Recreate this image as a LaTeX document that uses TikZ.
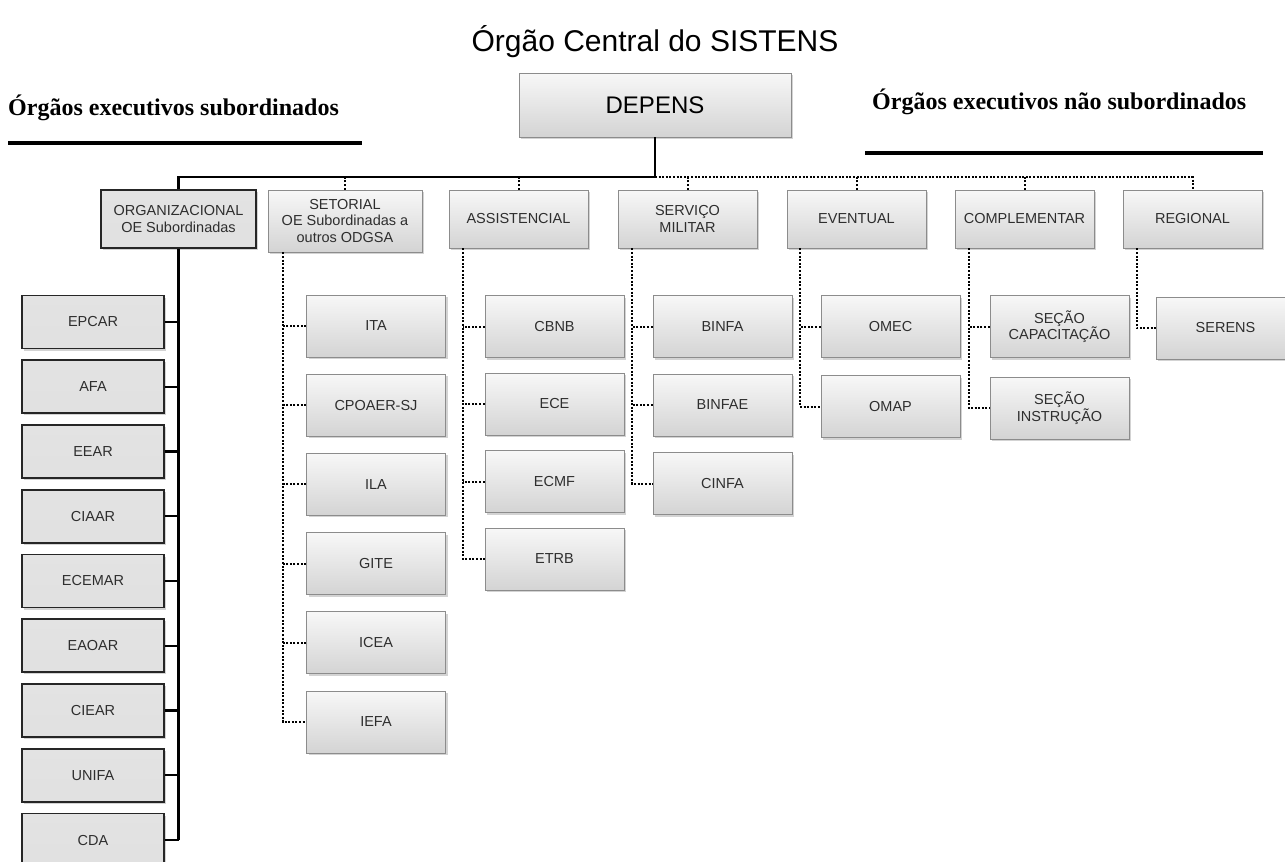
\documentclass[tikz,border=0pt]{standalone}
\usepackage{fontspec}
\setmainfont{Liberation Sans}
\newfontfamily\headfont{Liberation Serif}
\usetikzlibrary{shadows}

\definecolor{boxtext}{HTML}{2E2E2E}
\definecolor{boxline}{HTML}{8C8C8C}

\begin{document}
\begin{tikzpicture}[x=1pt,y=-1pt,
  box/.style={draw=boxline, line width=0.8pt, top color=gray!6, bottom color=gray!34,
    text=boxtext, font=\fontsize{14.5}{16.5}\selectfont, align=center, inner sep=0pt,
    drop shadow={shadow xshift=2pt, shadow yshift=-2pt, opacity=0.35}},
  level/.style={box, minimum width=139pt, minimum height=58pt},
  leaf/.style={box, minimum width=139pt, minimum height=62pt},
  subleaf/.style={box, draw=black!85, line width=1.6pt, top color=gray!22, bottom color=gray!24,
    minimum width=142pt, minimum height=53pt},
  head/.style={font=\headfont\bfseries\fontsize{24}{28}\selectfont, inner sep=0pt},
  rule/.style={line width=3.5pt},
  solidlink/.style={line width=2.2pt},
  dotlink/.style={line width=2pt, dash pattern=on 2pt off 1.6pt}]
\useasboundingbox (0,0) rectangle (1285,862);

% title and headers
\node[font=\fontsize{30}{36}\selectfont] (title) at (655,42) {Órgão Central do SISTENS};
\node[head, anchor=west] (hsub) at (8,108) {Órgãos executivos subordinados};
\draw[rule] (8,143) -- (362,143);
\node[head, anchor=west] (hnsub) at (872,102) {Órgãos executivos não subordinados};
\draw[rule] (865,153) -- (1263,153);

% central body
\node[box, minimum width=272pt, minimum height=64pt, text=black,
  font=\fontsize{24}{28}\selectfont] (depens) at (655,105) {DEPENS};
\coordinate (hub) at (655,177);

% second level
\node[box, draw=black!85, line width=1.6pt, top color=gray!22, bottom color=gray!24,
  minimum width=155pt, minimum height=58pt] (org) at (178.5,219) {ORGANIZACIONAL\\OE Subordinadas};
\node[box, minimum width=154pt, minimum height=62pt] (setorial) at (345,221)
  {SETORIAL\\OE Subordinadas a\\outros ODGSA};
\node[level] (assist) at (518.5,219) {ASSISTENCIAL};
\node[level] (servico) at (687.5,219) {SERVIÇO\\MILITAR};
\node[level] (eventual) at (856.5,219) {EVENTUAL};
\node[level] (complem) at (1024.5,219) {COMPLEMENTAR};
\node[level] (regional) at (1192.5,219) {REGIONAL};

\draw[solidlink] (depens.south) -- (hub) -| (org.north);
\draw[dotlink] (hub) -| (regional.north);
\foreach \nm in {setorial,assist,servico,eventual,complem}
  \draw[dotlink] (\nm.north) -- (\nm.north |- hub);

% subordinated bodies
\foreach \nm [count=\i from 0] in {EPCAR,AFA,EEAR,CIAAR,ECEMAR,EAOAR,CIEAR,UNIFA,CDA}
  \node[subleaf] (\nm) at (93,322+64.75*\i) {\nm};
\draw[solidlink] (org.south) -- (org.south |- CDA.east);
\foreach \nm in {EPCAR,AFA,EEAR,CIAAR,ECEMAR,EAOAR,CIEAR,UNIFA,CDA}
  \draw[solidlink] (\nm.east) -- (\nm.east -| org.south);

% non subordinated bodies
\foreach \nm/\lab [count=\i from 0] in {ita/ITA,cpoaer/CPOAER-SJ,ila/ILA,gite/GITE,icea/ICEA,iefa/IEFA}
  \node[leaf] (\nm) at (376,326+79.2*\i) {\lab};
\foreach \nm/\lab [count=\i from 0] in {cbnb/CBNB,ece/ECE,ecmf/ECMF,etrb/ETRB}
  \node[leaf] (\nm) at (554.5,326.5+77.5*\i) {\lab};
\foreach \nm/\lab [count=\i from 0] in {binfa/BINFA,binfae/BINFAE,cinfa/CINFA}
  \node[leaf] (\nm) at (722.5,326.5+78.5*\i) {\lab};
\node[leaf] (omec) at (890.5,326.5) {OMEC};
\node[leaf] (omap) at (890.5,406.5) {OMAP};
\node[leaf] (capac) at (1059.5,326.5) {SEÇÃO\\CAPACITAÇÃO};
\node[leaf] (instr) at (1059.5,408) {SEÇÃO\\INSTRUÇÃO};
\node[leaf] (serens) at (1225.5,328) {SERENS};

% dotted trunks
\coordinate (setT) at ([xshift=15pt]setorial.south west);
\coordinate (assT) at ([xshift=14pt]assist.south west);
\coordinate (serT) at ([xshift=14pt]servico.south west);
\coordinate (evtT) at ([xshift=13pt]eventual.south west);
\coordinate (cmpT) at ([xshift=14pt]complem.south west);
\coordinate (regT) at ([xshift=14pt]regional.south west);
\draw[dotlink] (setT) |- (iefa.west);
\foreach \nm in {ita,cpoaer,ila,gite,icea}
  \draw[dotlink] (\nm.west) -- (\nm.west -| setT);
\draw[dotlink] (assT) |- (etrb.west);
\foreach \nm in {cbnb,ece,ecmf}
  \draw[dotlink] (\nm.west) -- (\nm.west -| assT);
\draw[dotlink] (serT) |- (cinfa.west);
\foreach \nm in {binfa,binfae}
  \draw[dotlink] (\nm.west) -- (\nm.west -| serT);
\draw[dotlink] (evtT) |- (omap.west);
\draw[dotlink] (omec.west) -- (omec.west -| evtT);
\draw[dotlink] (cmpT) |- (instr.west);
\draw[dotlink] (capac.west) -- (capac.west -| cmpT);
\draw[dotlink] (regT) |- (serens.west);
\end{tikzpicture}
\end{document}
